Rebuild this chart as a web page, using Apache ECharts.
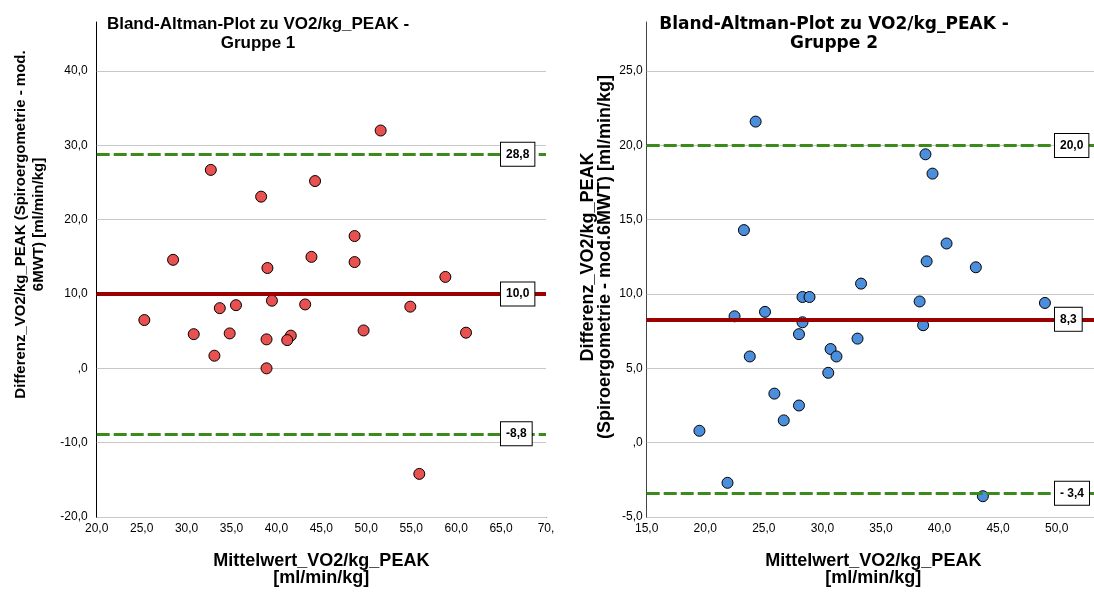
<!DOCTYPE html>
<html>
<head>
<meta charset="utf-8">
<script src="https://cdn.jsdelivr.net/npm/echarts@6/dist/echarts.min.js"></script>
<style>
  html, body { margin: 0; padding: 0; background: #fff; }
  #chart { width: 1094px; height: 592px; }
</style>
</head>
<body>
<div id="chart"></div>
<script>
// Gruppe 1: mean of both methods (x) and their difference (y)
const meanG1 = [51.6, 32.7, 44.3, 38.3, 48.7, 28.5, 39.0, 43.9, 48.7, 58.8,
                25.3, 30.8, 33.7, 35.5, 34.8, 33.1, 39.5, 38.9, 38.9, 41.6,
                41.2, 43.2, 49.7, 54.9, 61.1, 55.9];
const diffG1 = [32.0, 26.7, 25.2, 23.1, 17.8, 14.6, 13.5, 15.0, 14.3, 12.3,
                6.5, 4.6, 8.1, 8.5, 4.7, 1.7, 9.1, 3.9, 0.0, 4.4,
                3.8, 8.6, 5.1, 8.3, 4.8, -14.2];

// Gruppe 2
const meanG2 = [24.3, 38.8, 39.4, 23.3, 40.6, 38.9, 43.1, 33.3, 28.3, 28.9,
                38.3, 49.0, 22.5, 25.1, 28.3, 38.6, 28.0, 33.0, 23.8, 30.7,
                31.2, 30.5, 25.9, 28.0, 26.7, 19.5, 21.9, 43.7];
const diffG2 = [21.6, 19.4, 18.1, 14.3, 13.4, 12.2, 11.8, 10.7, 9.8, 9.8,
                9.5, 9.4, 8.5, 8.8, 8.1, 7.9, 7.3, 7.0, 5.8, 6.3,
                5.8, 4.7, 3.3, 2.5, 1.5, 0.8, -2.7, -3.6];

// Mean difference and limits of agreement [upper, mean, lower]
const limitsG1 = [28.8, 10.0, -8.8];
const limitLabelsG1 = ['28,8', '10,0', '-8,8'];
const limitsG2 = [20.0, 8.3, -3.4];
const limitLabelsG2 = ['20,0', '8,3', '- 3,4'];

// Axis ticks and their labels
const xTicksG1 = [20, 25, 30, 35, 40, 45, 50, 55, 60, 65, 70];
const xTickLabelsG1 = ['20,0', '25,0', '30,0', '35,0', '40,0', '45,0', '50,0', '55,0', '60,0', '65,0', '70,'];
const yTicksG1 = [-20, -10, 0, 10, 20, 30, 40];
const yTickLabelsG1 = ['-20,0', '-10,0', ',0', '10,0', '20,0', '30,0', '40,0'];
const xTicksG2 = [15, 20, 25, 30, 35, 40, 45, 50];
const xTickLabelsG2 = ['15,0', '20,0', '25,0', '30,0', '35,0', '40,0', '45,0', '50,0'];
const yTicksG2 = [-5, 0, 5, 10, 15, 20, 25];
const yTickLabelsG2 = ['-5,0', ',0', '5,0', '10,0', '15,0', '20,0', '25,0'];

const titleG1 = 'Bland-Altman-Plot zu VO2/kg_PEAK -\nGruppe 1';
const titleG2 = 'Bland-Altman-Plot zu VO2/kg_PEAK -\nGruppe 2';
const xNameG = 'Mittelwert_VO2/kg_PEAK\n[ml/min/kg]';
const yNameG1 = 'Differenz_VO2/kg_PEAK (Spiroergometrie - mod.\n6MWT) [ml/min/kg]';
const yNameG2 = 'Differenz_VO2/kg_PEAK\n(Spiroergometrie - mod.6MWT) [ml/min/kg]';

const FONT = '"Liberation Sans", Arial, sans-serif';
const RED = '#9b0000';
const GREEN = '#3a8a1c';

function lookup(ticks, labels) {
  return function (v) {
    const i = ticks.findIndex(t => Math.abs(t - v) < 1e-6);
    return i >= 0 ? labels[i] : '';
  };
}
function pairs(xs, ys) { return xs.map((x, i) => [x, ys[i]]); }

function limitLines(values, labels, labelShift) {
  return values.map((v, i) => ({
    yAxis: v,
    lineStyle: i === 1
      ? { color: RED, width: 4, type: 'solid' }
      : { color: GREEN, width: 3, type: [13, 4] },
    label: {
      show: true,
      position: 'end',
      distance: labelShift,
      formatter: labels[i],
      fontFamily: FONT,
      fontWeight: 'bold',
      fontSize: 12,
      lineHeight: 14,
      color: '#000',
      backgroundColor: '#fff',
      borderColor: '#000',
      borderWidth: 1,
      padding: [5, 5, 4, 5]
    }
  }));
}

function gridLines(ticks) {
  return {
    silent: true,
    symbol: 'none',
    z: 1,
    label: { show: false },
    emphasis: { disabled: true },
    lineStyle: { color: '#c8c8c8', width: 1, type: 'solid' },
    data: ticks.map(v => ({ yAxis: v }))
  };
}

function xAxis(idx, min, max, ticks, labels, lineColor) {
  return {
    type: 'value', gridIndex: idx, min: min, max: max, interval: 5,
    axisLine: { show: true, onZero: false, lineStyle: { color: lineColor, width: 1 } },
    axisTick: { show: false },
    splitLine: { show: false },
    axisLabel: { formatter: lookup(ticks, labels), color: '#000', fontFamily: FONT, fontSize: 12, margin: 6, showMaxLabel: true },
    name: xNameG, nameLocation: 'middle', nameGap: 36,
    nameTextStyle: { fontFamily: FONT, fontWeight: 'bold', fontSize: 18, lineHeight: 17, color: '#000' }
  };
}

function yAxis(idx, min, max, interval, ticks, labels, lineColor, name, gap, shift, size, lineH, margin) {
  return {
    type: 'value', gridIndex: idx, min: min, max: max, interval: interval,
    axisLine: { show: true, onZero: false, lineStyle: { color: lineColor, width: 1 } },
    axisTick: { show: false },
    splitLine: { show: false },
    axisLabel: { formatter: lookup(ticks, labels), color: '#000', fontFamily: FONT, fontSize: 12, margin: margin },
    name: name, nameLocation: 'middle', nameRotate: 90, nameGap: gap,
    nameTextStyle: { fontFamily: FONT, fontWeight: 'bold', fontSize: size, lineHeight: lineH, color: '#000', padding: [0, 0, 0, shift] }
  };
}

const chart = echarts.init(document.getElementById('chart'), null, { renderer: 'canvas' });

chart.setOption({
  animation: false,
  backgroundColor: '#fff',
  title: [
    { text: titleG1, left: 253, top: 10, textAlign: 'center',
      textStyle: { fontFamily: FONT, fontWeight: 'bold', fontSize: 17, lineHeight: 19, color: '#000' } },
    { text: titleG2, left: 829, top: 10, textAlign: 'center',
      textStyle: { fontFamily: '"DejaVu Sans", sans-serif', fontWeight: 'bold', fontSize: 17, lineHeight: 19, color: '#000' } }
  ],
  grid: [
    { left: 96.7, top: 22, width: 449.3, height: 495, outerBoundsMode: 'none', containLabel: false },
    { left: 646.7, top: 22, width: 453.3, height: 495, outerBoundsMode: 'none', containLabel: false }
  ],
  xAxis: [
    xAxis(0, 20, 70, xTicksG1, xTickLabelsG1, '#000'),
    xAxis(1, 15, 53.7, xTicksG2, xTickLabelsG2, '#444')
  ],
  yAxis: [
    yAxis(0, -20, 46.6, 10, yTicksG1, yTickLabelsG1, '#000', yNameG1, 49, 90, 15, 18, 9),
    yAxis(1, -5, 28.3, 5, yTicksG2, yTickLabelsG2, '#444', yNameG2, 33, 25, 18, 17, 4)
  ],
  series: [
    { type: 'scatter', xAxisIndex: 0, yAxisIndex: 0, data: [], silent: true, markLine: gridLines(yTicksG1) },
    { type: 'scatter', xAxisIndex: 1, yAxisIndex: 1, data: [], silent: true, markLine: gridLines(yTicksG2) },
    {
      name: 'Gruppe 1', type: 'scatter', xAxisIndex: 0, yAxisIndex: 0,
      data: pairs(meanG1, diffG1), symbol: 'circle', symbolSize: 11, z: 3,
      itemStyle: { color: '#e8514f', borderColor: '#000', borderWidth: 1, opacity: 1 },
      markLine: { silent: true, symbol: 'none', z: 5, emphasis: { disabled: true }, data: limitLines(limitsG1, limitLabelsG1, -45) }
    },
    {
      name: 'Gruppe 2', type: 'scatter', xAxisIndex: 1, yAxisIndex: 1,
      data: pairs(meanG2, diffG2), symbol: 'circle', symbolSize: 11, z: 3,
      itemStyle: { color: '#4b8fdc', borderColor: '#000', borderWidth: 1, opacity: 1 },
      markLine: { silent: true, symbol: 'none', z: 5, emphasis: { disabled: true }, data: limitLines(limitsG2, limitLabelsG2, -45) }
    }
  ]
});
</script>
</body>
</html>
